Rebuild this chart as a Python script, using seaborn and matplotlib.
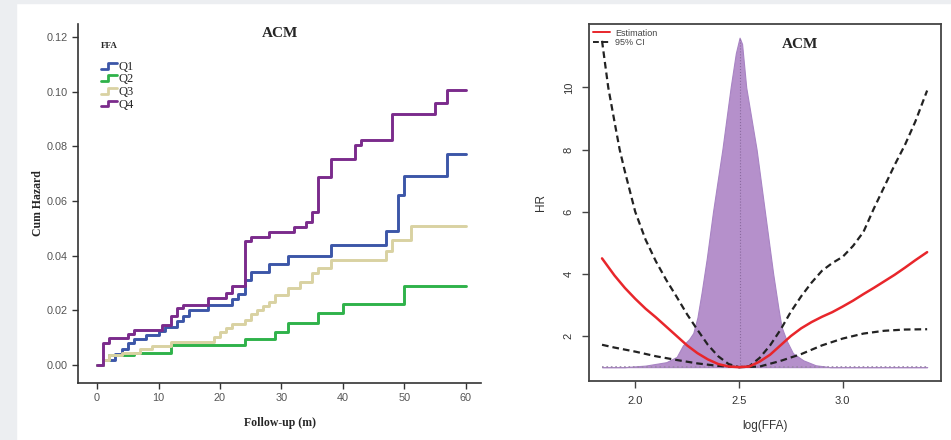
import numpy as np
import pandas as pd
import seaborn as sns
import matplotlib.pyplot as plt
from matplotlib.patches import Rectangle
from matplotlib.lines import Line2D
from matplotlib.legend_handler import HandlerBase

# left panel: cumulative hazard steps per FFA quartile
q1_t = [0, 1, 3, 4, 5, 6, 8, 10, 11, 13, 14, 15, 18, 22, 23, 24, 25, 28, 31, 38, 47, 49, 50, 57, 60]
q1_v = [0, .002, .004, .006, .008, .0095, .011, .0125, .014, .016, .018, .020, .022, .024, .026,
        .031, .034, .037, .040, .044, .049, .062, .069, .077, .077]
q2_t = [0, 1, 2, 6, 12, 24, 29, 31, 36, 40, 50, 60]
q2_v = [0, .002, .0035, .0045, .0074, .0094, .0121, .0153, .0189, .0223, .0287, .0287]
q3_t = [0, 1, 2, 4, 7, 9, 12, 19, 20, 21, 22, 24, 25, 26, 27, 28, 29, 31, 33, 35, 36, 38, 47, 48, 51, 60]
q3_v = [0, .002, .0035, .0045, .006, .007, .0085, .0103, .012, .0134, .015, .0165, .0185, .020,
        .0215, .023, .0255, .028, .0305, .0336, .0354, .0385, .0415, .0458, .0507, .0507]
q4_t = [0, 1, 2, 5, 6, 10.5, 12, 13, 14, 18, 21, 22, 24, 25, 28, 32, 34, 35, 36, 38, 42, 43, 48, 55, 57, 60]
q4_v = [0, .008, .0098, .0115, .0128, .0145, .018, .021, .022, .0245, .0265, .029, .0455, .0468,
        .0485, .0503, .0523, .056, .0686, .0753, .0803, .0824, .0916, .0958, .1007, .1007]
groups = ['Q1', 'Q2', 'Q3', 'Q4']
colors = ['#3c56a8', '#2fb24a', '#d9d2a2', '#7b2b8c']

# right panel: spline HR and density of log(FFA)
est_x = [1.84, 1.9, 1.95, 2.0, 2.05, 2.1, 2.15, 2.2, 2.25, 2.3, 2.35, 2.4, 2.45, 2.5, 2.55, 2.6,
         2.65, 2.7, 2.75, 2.8, 2.85, 2.9, 2.95, 3.0, 3.05, 3.1, 3.15, 3.2, 3.25, 3.3, 3.35, 3.407]
est_y = [4.5, 3.95, 3.55, 3.2, 2.88, 2.6, 2.3, 2.0, 1.7, 1.45, 1.25, 1.1, 1.02, 1.0, 1.02, 1.18,
         1.4, 1.7, 2.0, 2.25, 2.45, 2.62, 2.77, 2.95, 3.14, 3.35, 3.55, 3.76, 3.97, 4.2, 4.44, 4.7]
up_x = [1.84, 1.87, 1.9, 1.925, 1.95, 2.0, 2.05, 2.1, 2.15, 2.2, 2.25, 2.3, 2.35, 2.4, 2.45, 2.5,
        2.55, 2.6, 2.65, 2.7, 2.75, 2.8, 2.85, 2.9, 2.95, 3.0, 3.05, 3.1, 3.15, 3.2, 3.25, 3.3, 3.35, 3.407]
up_y = [11.5, 10.0, 8.9, 8.0, 7.3, 6.0, 5.1, 4.4, 3.8, 3.26, 2.7, 2.2, 1.72, 1.35, 1.1, 1.0,
        1.03, 1.3, 1.7, 2.2, 2.78, 3.28, 3.72, 4.1, 4.35, 4.55, 4.9, 5.35, 6.1, 6.8, 7.5, 8.15, 8.9, 9.9]
lo_x = [1.84, 1.9, 2.0, 2.1, 2.2, 2.3, 2.4, 2.5, 2.6, 2.7, 2.8, 2.9, 3.0, 3.1, 3.2, 3.3, 3.407]
lo_y = [1.72, 1.63, 1.5, 1.35, 1.23, 1.12, 1.04, 1.0, 1.02, 1.2, 1.42, 1.7, 1.92, 2.08, 2.17, 2.21, 2.22]
dens_x = [1.84, 1.95, 2.05, 2.15, 2.2, 2.23, 2.26, 2.28, 2.3, 2.32, 2.345, 2.375, 2.42, 2.46, 2.485,
          2.503, 2.515, 2.535, 2.56, 2.585, 2.625, 2.665, 2.69, 2.705, 2.73, 2.76, 2.81, 2.87, 2.94, 3.407]
dens_y = [1.0, 1.0, 1.05, 1.16, 1.33, 1.7, 1.9, 2.1, 2.6, 3.4, 4.5, 6.0, 8.0, 10.0, 11.1,
          11.6, 11.4, 10.0, 9.0, 8.0, 6.0, 4.0, 2.9, 2.3, 1.85, 1.45, 1.22, 1.06, 1.0, 1.0]


class StepHandler(HandlerBase):
    # SPSS style step glyph in the legend
    def create_artists(self, legend, orig_handle, xdescent, ydescent, width, height, fontsize, trans):
        x0 = -xdescent
        xs = [x0, x0 + width * 0.45, x0 + width * 0.45, x0 + width]
        ys = [height * 0.15, height * 0.15, height * 0.8, height * 0.8]
        ln = Line2D(xs, ys, color=orig_handle.get_color(), lw=orig_handle.get_linewidth())
        ln.set_transform(trans)
        return [ln]


sns.set_style('ticks')
plt.rcParams['font.family'] = ['Liberation Sans', 'DejaVu Sans']
serif = ['Liberation Serif', 'DejaVu Serif']

fig = plt.figure(figsize=(9.51, 4.40), dpi=100, facecolor='white')
fig.patches.append(Rectangle((0, 0), 16 / 951, 1, transform=fig.transFigure, color='#eceef1', zorder=-5))
fig.patches.append(Rectangle((0, 1 - 3 / 440), 1, 3 / 440, transform=fig.transFigure, color='#eceef1', zorder=-5))

# ---- left: cumulative hazard ----
ax1 = fig.add_axes([0.082, 0.1295, 0.424, 0.816])
frames = []
for g, t, v in zip(groups, [q1_t, q2_t, q3_t, q4_t], [q1_v, q2_v, q3_v, q4_v]):
    frames.append(pd.DataFrame({'time': t, 'haz': v, 'FFA': g}))
df = pd.concat(frames)
sns.lineplot(data=df, x='time', y='haz', hue='FFA', palette=colors, drawstyle='steps-post',
             estimator=None, lw=2.1, ax=ax1, legend=False)
ax1.set_xlim(-3.1, 62.5)
ax1.set_ylim(-0.0066, 0.1247)
ax1.set_xticks([0, 10, 20, 30, 40, 50, 60])
ax1.set_yticks([0, .02, .04, .06, .08, .10, .12])
ax1.set_yticklabels(['%.2f' % v for v in ax1.get_yticks()])
sns.despine(ax=ax1)
for s in ['left', 'bottom']:
    ax1.spines[s].set_linewidth(1.2)
    ax1.spines[s].set_color('#333333')
ax1.tick_params(direction='out', length=4, width=1, labelsize=7.8, labelcolor='#555555', color='#333333')
ax1.set_xlabel('Follow-up (m)', family=serif, fontweight='bold', fontsize=8.5, labelpad=10)
ax1.set_ylabel('Cum Hazard', family=serif, fontweight='bold', fontsize=8.5, labelpad=2)
ax1.set_title('ACM', family=serif, fontweight='bold', fontsize=11, y=0.94, x=0.5)
handles = [Line2D([], [], color=c, lw=2.0) for c in colors]
leg = ax1.legend(handles, groups, title='FFA', loc='upper left', bbox_to_anchor=(0.035, 0.975),
                 frameon=False, prop={'family': serif, 'size': 9}, handlelength=1.3,
                 handletextpad=0.1, labelspacing=0.05, borderpad=0.2,
                 handler_map={Line2D: StepHandler()})
leg.get_title().set_family(serif)
leg.get_title().set_fontweight('bold')
leg.get_title().set_fontsize(6.5)
leg._legend_box.align = 'left'
leg._legend_box.sep = 8

# ---- right: HR spline ----
ax2 = fig.add_axes([0.6193, 0.134, 0.370, 0.8114])
ax2.fill_between(dens_x, 1, dens_y, facecolor='#b590cb', edgecolor='#a884c4', lw=0.8, zorder=1)
peak = int(np.argmax(dens_y))
ax2.plot([dens_x[peak], dens_x[peak]], [1, dens_y[peak]], ls=':', lw=0.8, color='#8a6a9e', zorder=2)
ax2.hlines(1, dens_x[0], dens_x[-1], linestyles=':', lw=1.2, color='#9a86a8', zorder=2)
n0 = len(ax2.lines)
sns.lineplot(x=up_x, y=up_y, color='#222222', lw=1.6, ax=ax2, zorder=3)
sns.lineplot(x=lo_x, y=lo_y, color='#222222', lw=1.6, ax=ax2, zorder=3)
for ln in ax2.lines[n0:]:
    ln.set_dashes((3, 1.8))
sns.lineplot(x=est_x, y=est_y, color='#e8262b', lw=1.8, ax=ax2, zorder=4)
ax2.set_xlim(1.777, 3.473)
ax2.set_ylim(0.553, 12.04)
ax2.set_xticks([2.0, 2.5, 3.0])
ax2.set_xticklabels(['2.0', '2.5', '3.0'])
ax2.set_yticks([2, 4, 6, 8, 10])
ax2.set_yticklabels(['2', '4', '6', '8', '10'], rotation=90, va='center')
for s in ax2.spines.values():
    s.set_linewidth(1.3)
    s.set_color('#444444')
ax2.tick_params(direction='out', length=5, width=1, labelsize=8, labelcolor='#333333', color='#444444', pad=6)
ax2.set_xlabel('log(FFA)', fontsize=8.5, labelpad=10, color='#333333')
ax2.set_ylabel('HR', fontsize=8.5, labelpad=12, color='#333333')
ax2.text(0.6, 0.96, 'ACM', transform=ax2.transAxes, family=serif, fontweight='bold', fontsize=11,
         ha='center', va='top')
leg_h = [Line2D([], [], color='#e8262b', lw=1.4), Line2D([], [], color='#222222', lw=1.4, ls=(0, (3, 1.8)))]
ax2.legend(leg_h, ['Estimation', '95% CI'], loc='upper left', frameon=False, fontsize=6.5,
           handlelength=1.8, handletextpad=0.6, labelspacing=0.05, borderpad=0.2,
           borderaxespad=0.3, labelcolor='#444444')

fig.savefig('out.png', dpi=100, facecolor='white')
